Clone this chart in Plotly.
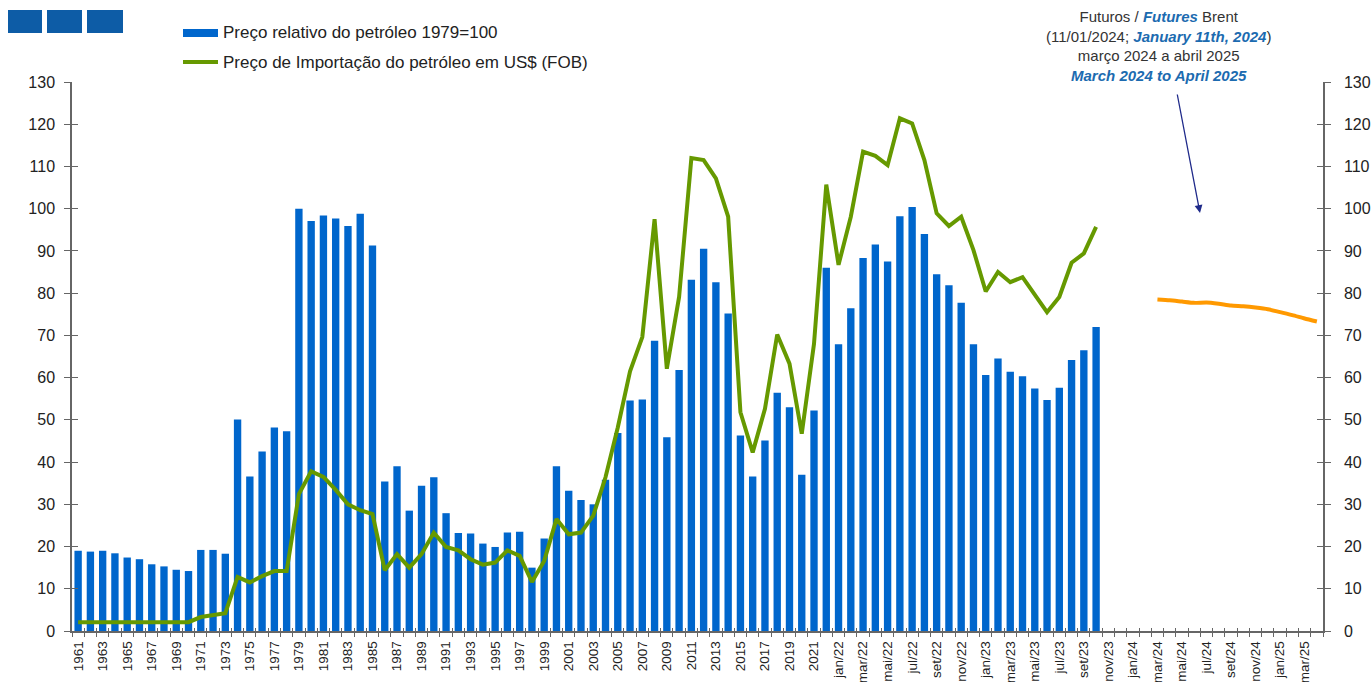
import plotly.graph_objects as go

# ---- periods: annual 1961-2022, then monthly jan/22 - abr/25 ----
years = [str(y) for y in range(1961, 2023)]
months_pt = ["jan", "fev", "mar", "abr", "mai", "jun", "jul", "ago", "set", "out", "nov", "dez"]
monthly = [f"{m}/{yy}" for yy in ("22", "23", "24") for m in months_pt] + \
          [f"{m}/25" for m in months_pt[:4]]
periods = years + monthly

# ---- relative oil price, 1979 = 100 (1961 .. out/23) ----
relative_price = [
    19.0, 18.8, 19.0, 18.4, 17.4, 17.0, 15.8, 15.3, 14.5, 14.2,      # 1961-1970
    19.2, 19.2, 18.3, 50.1, 36.6, 42.5, 48.2, 47.3, 100.0, 97.1,     # 1971-1980
    98.4, 97.7, 95.9, 98.8, 91.3, 35.4, 39.0, 28.5, 34.4, 36.4,      # 1981-1990
    27.9, 23.2, 23.1, 20.7, 19.9, 23.3, 23.5, 15.0, 21.9, 39.0,      # 1991-2000
    33.2, 31.0, 30.0, 35.8, 46.9, 54.6, 54.8, 68.7, 45.9, 61.8,      # 2001-2010
    83.2, 90.5, 82.6, 75.2, 46.3, 36.6, 45.1, 56.4, 53.0, 37.0,      # 2011-2020
    52.2, 86.0,                                                      # 2021-2022
    67.9, 76.4, 88.3, 91.5, 87.5, 98.2, 100.4, 94.0, 84.5, 81.9, 77.7, 67.9,  # 2022 months
    60.6, 64.5, 61.4, 60.3, 57.4, 54.7, 57.6, 64.2, 66.5, 72.0,             # 2023 months
]

# ---- oil import price in US$ (FOB) (1961 .. out/23) ----
import_price = [
    2.1, 2.1, 2.1, 2.1, 2.1, 2.1, 2.1, 2.1, 2.1, 2.1,                # 1961-1970
    3.3, 3.8, 4.2, 12.8, 11.5, 13.0, 14.2, 14.2, 32.4, 37.8,         # 1971-1980
    36.5, 33.4, 30.0, 28.6, 27.7, 14.4, 18.2, 15.0, 18.2, 23.3,      # 1981-1990
    19.9, 19.1, 17.0, 15.7, 16.2, 19.1, 17.8, 11.6, 16.6, 26.5,      # 1991-2000
    22.9, 23.3, 27.3, 36.4, 48.2, 61.5, 69.6, 97.5, 62.1, 79.1,      # 2001-2010
    112.0, 111.5, 107.2, 98.1, 51.8, 42.3, 52.6, 70.2, 63.3, 46.7,   # 2011-2020
    68.0, 105.7,                                                     # 2021-2022
    86.7, 98.1, 113.5, 112.5, 110.3, 121.4, 120.2, 111.5, 98.9, 95.9, 98.1, 90.2,
    80.4, 85.0, 82.6, 83.8, 79.5, 75.5, 79.1, 87.2, 89.4, 95.7,
]

# ---- Brent futures, mar/24 .. abr/25 ----
futures_periods = ["mar/24", "abr/24", "mai/24", "jun/24", "jul/24", "ago/24", "set/24",
                   "out/24", "nov/24", "dez/24", "jan/25", "fev/25", "mar/25", "abr/25"]
futures_brent = [78.5, 78.3, 78.0, 77.7, 77.8, 77.5, 77.1, 76.9, 76.6, 76.2, 75.5, 74.8, 74.0, 73.3]

y_ticks = list(range(0, 131, 10))

BLUE = "#0066cc"
GREEN = "#669900"
ORANGE = "#ff9900"
AXIS = "#666666"
TEXT = "#222222"
FONT = "Liberation Sans, Arial, sans-serif"

pos = {p: i for i, p in enumerate(periods)}
x_hist = [pos[p] for p in periods[:len(relative_price)]]
x_fut = [pos[p] for p in futures_periods]

W, H = 1371, 682
L, R, T, B = 72, 48, 82, 51
PW, PH = W - L - R, H - T - B


def px(x):
    return (x - L) / PW


def py(y):
    return (H - B - y) / PH


fig = go.Figure()
fig.add_trace(go.Bar(x=x_hist, y=relative_price, marker_color=BLUE, width=0.6,
                     marker_line_width=0, name="Preço relativo do petróleo 1979=100",
                     showlegend=False))
fig.add_trace(go.Scatter(x=x_hist, y=import_price, mode="lines",
                         line=dict(color=GREEN, width=4),
                         name="Preço de Importação do petróleo em US$ (FOB)", showlegend=False))
fig.add_trace(go.Scatter(x=x_fut, y=futures_brent, mode="lines",
                         line=dict(color=ORANGE, width=4, shape="spline", smoothing=0.6),
                         name="Futuros Brent", showlegend=False))

# empty traces so the secondary / tick-only axes get rendered
for xa, ya in [("x", "y2"), ("x", "y3"), ("x", "y4"), ("x2", "y"), ("x3", "y")]:
    fig.add_trace(go.Scatter(x=[], y=[], xaxis=xa, yaxis=ya, mode="lines",
                             showlegend=False, hoverinfo="skip"))

xr = [-0.5, len(periods) - 0.5]
half_ticks = [i - 0.5 for i in range(len(periods) + 1)]
label_idx = list(range(0, len(periods), 2))

common_y = dict(range=[0, 130], tickvals=y_ticks, showgrid=False, zeroline=False,
                automargin=False,
                tickfont=dict(family=FONT, size=16, color=TEXT), tickcolor=AXIS, tickwidth=1)
common_x = dict(range=xr, showgrid=False, zeroline=False, automargin=False)

fig.update_layout(
    width=W, height=H,
    margin=dict(l=L, r=R, t=T, b=B, pad=0, autoexpand=False),
    paper_bgcolor="white", plot_bgcolor="white",
    bargap=0.4,
    font=dict(family=FONT, color=TEXT),
    xaxis=dict(**common_x, tickvals=label_idx, ticktext=[periods[i] for i in label_idx],
               tickangle=-90, ticks="", showline=True, linecolor=AXIS, linewidth=1.5,
               ticklabelstandoff=3,
               tickfont=dict(family=FONT, size=13.5, color=TEXT)),
    xaxis2=dict(**common_x, overlaying="x", anchor="y", side="bottom", tickvals=half_ticks,
                ticks="outside", ticklen=5, tickcolor=AXIS, tickwidth=1,
                showticklabels=False, showline=False),
    xaxis3=dict(**common_x, overlaying="x", anchor="y", side="bottom", tickvals=half_ticks,
                ticks="inside", ticklen=3, tickcolor=AXIS, tickwidth=1,
                showticklabels=False, showline=False),
    yaxis=dict(**common_y, side="left", ticks="outside", ticklen=6,
               showline=True, linecolor=AXIS, linewidth=1.5, ticklabelstandoff=6),
    yaxis2=dict(**common_y, overlaying="y", anchor="x", side="right", ticks="outside",
                ticklen=6, showline=True, linecolor=AXIS, linewidth=1.5, ticklabelstandoff=10),
    yaxis3=dict(**common_y, overlaying="y", anchor="x", side="left", ticks="inside",
                ticklen=6, showline=False, showticklabels=False),
    yaxis4=dict(**common_y, overlaying="y", anchor="x", side="right", ticks="inside",
                ticklen=6, showline=False, showticklabels=False),
)

shapes = []
# header blocks
for x0, x1 in [(8, 42), (47, 82), (87, 123)]:
    shapes.append(dict(type="rect", xref="paper", yref="paper", x0=px(x0), x1=px(x1),
                       y0=py(33), y1=py(10), fillcolor="#0d5ca6", line_width=0, layer="above"))
# legend samples
shapes.append(dict(type="rect", xref="paper", yref="paper", x0=px(183), x1=px(218),
                   y0=py(37), y1=py(29), fillcolor=BLUE, line_width=0))
shapes.append(dict(type="line", xref="paper", yref="paper", x0=px(183), x1=px(218),
                   y0=py(62), y1=py(62), line=dict(color=GREEN, width=4)))
fig.update_layout(shapes=shapes)

annotations = [
    dict(text="Preço relativo do petróleo 1979=100", x=px(221), y=py(33)),
    dict(text="Preço de Importação do petróleo em US$ (FOB)", x=px(221), y=py(62)),
]
for a in annotations:
    a.update(xref="paper", yref="paper", xanchor="left", yanchor="middle", showarrow=False,
             font=dict(family=FONT, size=17, color=TEXT))

# futures note (four centred lines)
note_blue = "#1c6bb0"
note_text = "<br>".join([
    "Futuros / <b><i><span style='color:%s'>Futures</span></i></b> Brent" % note_blue,
    "(11/01/2024; <b><i><span style='color:%s'>January 11th, 2024</span></i></b>)" % note_blue,
    "março 2024 a abril 2025",
    "<b><i><span style='color:%s'>March 2024 to April 2025</span></i></b>" % note_blue,
])
annotations.append(dict(text=note_text, x=px(1158), y=py(46), xref="paper", yref="paper",
                        xanchor="center", yanchor="middle", align="center", showarrow=False,
                        borderpad=0, font=dict(family=FONT, size=15, color="#333333")))

# arrow pointing to the futures curve
annotations.append(dict(text="", x=px(1200), y=py(213), xref="paper", yref="paper",
                        ax=-23, ay=-120, showarrow=True, arrowhead=2, arrowsize=1.2,
                        arrowwidth=1.3, arrowcolor="#1f2a8a"))
fig.update_layout(annotations=annotations)

fig.write_html("out.html")
